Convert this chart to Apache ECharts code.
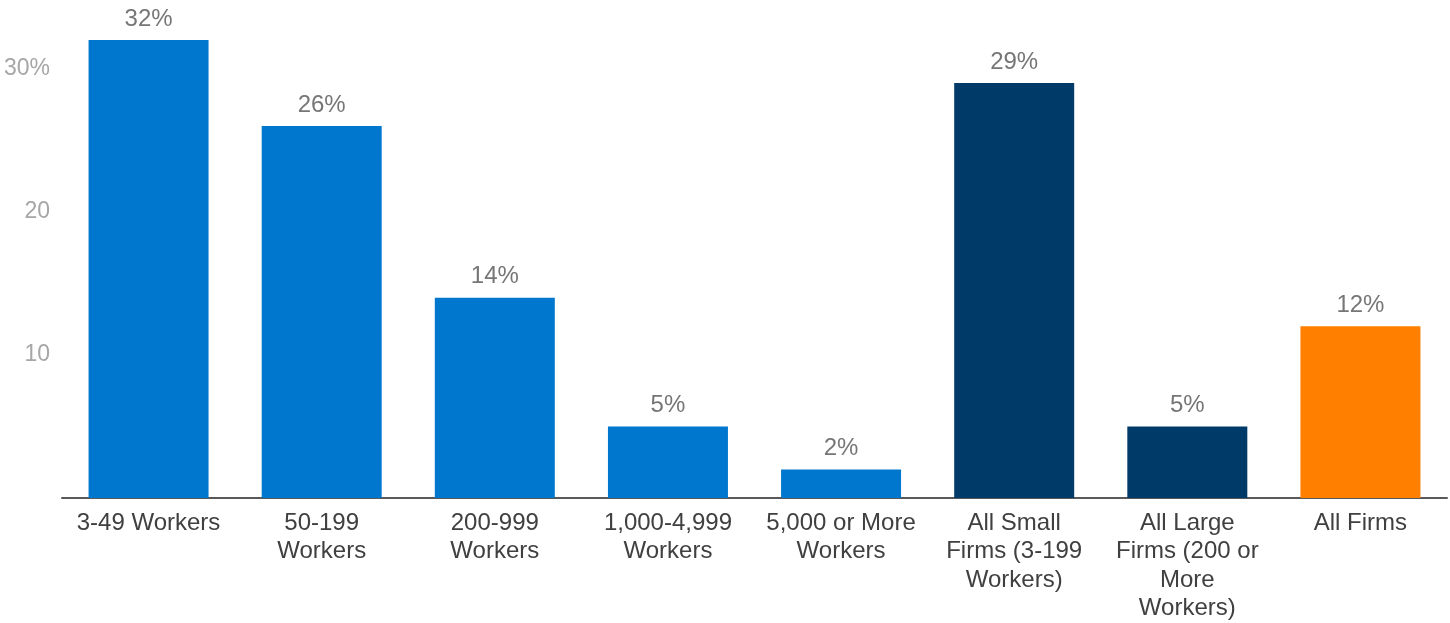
<!DOCTYPE html>
<html>
<head>
<meta charset="utf-8">
<script src="https://cdn.jsdelivr.net/npm/echarts@6/dist/echarts.min.js"></script>
<style>
  html, body { margin: 0; padding: 0; background: #fff; }
  #chart { width: 1450px; height: 623px; }
</style>
</head>
<body>
<div id="chart"></div>
<script>
const categories = [
  '3-49 Workers',
  '50-199\nWorkers',
  '200-999\nWorkers',
  '1,000-4,999\nWorkers',
  '5,000 or More\nWorkers',
  'All Small\nFirms (3-199\nWorkers)',
  'All Large\nFirms (200 or\nMore\nWorkers)',
  'All Firms'
];
const values = [32, 26, 14, 5, 2, 29, 5, 12];
const barColors = ['#0077cf', '#0077cf', '#0077cf', '#0077cf', '#0077cf', '#003a68', '#003a68', '#ff7f00'];

const chart = echarts.init(document.getElementById('chart'));

const option = {
  animation: false,
  grid: { left: 62, right: 3, top: 11.5, bottom: 123.5, containLabel: false },
  xAxis: {
    type: 'category',
    data: categories,
    axisLine: { lineStyle: { color: '#595959', width: 2 } },
    axisTick: { show: false },
    axisLabel: {
      interval: 0,
      margin: 11,
      color: '#404040',
      fontFamily: 'Liberation Sans',
      fontSize: 24,
      lineHeight: 28.5
    }
  },
  yAxis: {
    type: 'value',
    min: 0,
    max: 34,
    interval: 10,
    splitLine: { show: false },
    axisLine: { show: false },
    axisTick: { show: false },
    axisLabel: {
      margin: 12,
      padding: [6, 0, 0, 0],
      color: '#a6a6a6',
      fontFamily: 'Liberation Sans',
      fontSize: 23,
      formatter: v => (v === 30 ? '30%' : (v === 10 || v === 20 ? String(v) : ''))
    }
  },
  series: [
    {
      type: 'bar',
      data: values.map((v, i) => ({ value: v, itemStyle: { color: barColors[i] } })),
      barWidth: 120,
      label: {
        show: true,
        position: 'top',
        distance: 9,
        formatter: '{c}%',
        color: '#767676',
        fontFamily: 'Liberation Sans',
        fontSize: 24
      }
    }
  ]
};

chart.setOption(option);
</script>
</body>
</html>
